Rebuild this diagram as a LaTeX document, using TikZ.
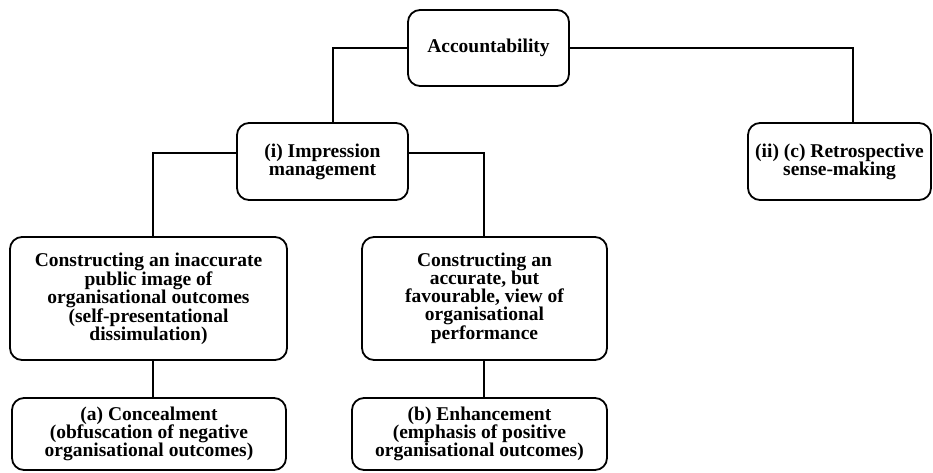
\documentclass[tikz,border=0pt]{standalone}
\usepackage{fontspec}
\setmainfont{Liberation Serif}
\usetikzlibrary{calc}
\begin{document}
\begin{tikzpicture}[x=1pt,y=1pt,
  box/.style={draw=black, line width=1.8pt, rounded corners=12pt, align=center,
    inner sep=0pt, font=\fontsize{19.5}{18}\selectfont\bfseries},
  link/.style={line width=1.8pt, black}]
\useasboundingbox (0,0) rectangle (933,-472);
\node[box, minimum width=161pt, minimum height=76pt] (acc) at (488.5,-48) {Accountability};
\node[box, minimum width=171pt, minimum height=77pt] (imp) at (322.5,-161.5) {(i) Impression\\management};
\node[box, minimum width=183pt, minimum height=77pt] (ret) at (839.5,-161.5) {(ii) (c) Retrospective\\sense-making};
\node[box, minimum width=277pt, minimum height=123pt] (inacc) at (148.5,-298.5) {Constructing an inaccurate\\public image of\\organisational outcomes\\(self-presentational\\dissimulation)};
\node[box, minimum width=245pt, minimum height=123pt] (accu) at (484.5,-298.5) {Constructing an\\accurate, but\\favourable, view of\\organisational\\performance};
\node[box, minimum width=274pt, minimum height=72pt] (conc) at (149,-434) {(a) Concealment\\(obfuscation of negative\\organisational outcomes)};
\node[box, minimum width=255pt, minimum height=72pt] (enh) at (479.5,-434) {(b) Enhancement\\(emphasis of positive\\organisational outcomes)};
\draw[link] (acc.west) -| ($(imp.north)+(10.5,0)$);
\draw[link] (acc.east) -| ($(ret.north)+(13.5,0)$);
\draw[link] ($(imp.west)+(0,8.5)$) -| ($(inacc.north)+(4.5,0)$);
\draw[link] ($(imp.east)+(0,8.5)$) -| ($(accu.north)+(-0.5,0)$);
\draw[link] ($(inacc.south)+(4.5,0)$) -- ($(conc.north)+(4,0)$);
\draw[link] ($(accu.south)+(-0.5,0)$) -- ($(enh.north)+(4.5,0)$);
\end{tikzpicture}
\end{document}
